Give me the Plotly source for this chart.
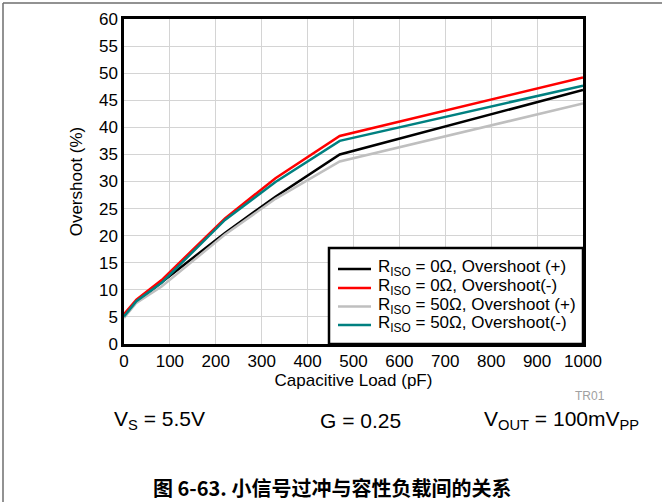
import plotly.graph_objects as go

# Capacitive load (pF)
carga_pf = [0, 27, 82, 220, 330, 470, 1000]

# Overshoot (%) por serie
riso0_pos = [5.0, 7.8, 11.4, 20.5, 27.2, 35.0, 46.9]
riso0_neg = [5.5, 8.2, 11.8, 23.2, 30.6, 38.4, 49.2]
riso50_pos = [4.8, 7.6, 10.6, 20.2, 26.8, 33.7, 44.4]
riso50_neg = [5.1, 7.9, 11.3, 22.9, 29.9, 37.5, 47.7]

series = [
    ("R<sub>ISO</sub> = 0Ω, Overshoot (+)", riso0_pos, "#000000"),
    ("R<sub>ISO</sub> = 0Ω, Overshoot(-)", riso0_neg, "#ff0000"),
    ("R<sub>ISO</sub> = 50Ω, Overshoot (+)", riso50_pos, "#bfbfbf"),
    ("R<sub>ISO</sub> = 50Ω, Overshoot(-)", riso50_neg, "#008080"),
]

FUENTE = "Liberation Sans, Arial, sans-serif"

fig = go.Figure()
for nombre, valores, color in series:
    fig.add_trace(go.Scatter(
        x=carga_pf, y=valores, name=nombre, mode="lines",
        line=dict(color=color, width=2.5), showlegend=False,
    ))

# area del grafico en pixeles: x 124..583, y 19..344
L, R, T, B = 124, 583, 19, 344
W, H = R - L, B - T


def px(x):
    return (x - L) / W


def py(y):
    return (B - y) / H


fig.update_layout(
    width=662, height=502,
    margin=dict(l=L, r=662 - R, t=T, b=502 - B, autoexpand=False),
    paper_bgcolor="white", plot_bgcolor="white",
    font=dict(family=FUENTE, size=17, color="black"),
    xaxis=dict(
        range=[0, 1000], dtick=100, showgrid=True, gridcolor="#d4d4d4", gridwidth=1,
        showline=True, mirror=True, linecolor="black", linewidth=2.5,
        ticks="", zeroline=False,
        title=dict(text="Capacitive Load (pF)", standoff=4, font=dict(size=17)),
    ),
    yaxis=dict(
        range=[0, 60], dtick=5, showgrid=True, gridcolor="#d4d4d4", gridwidth=1,
        showline=True, mirror=True, linecolor="black", linewidth=2.5,
        ticks="", zeroline=False,
        title=dict(text="Overshoot (%)", standoff=12, font=dict(size=17)),
    ),
)

# leyenda dibujada a mano (la de plotly deja las filas demasiado separadas)
fig.add_shape(type="rect", xref="paper", yref="paper",
              x0=px(329), x1=px(583), y0=py(344), y1=py(248),
              fillcolor="white", line=dict(color="black", width=2.5), layer="above")
filas_y = [269, 288, 306.5, 325]
for (nombre, _, color), fy in zip(series, filas_y):
    fig.add_shape(type="line", xref="paper", yref="paper",
                  x0=px(338), x1=px(371), y0=py(fy), y1=py(fy),
                  line=dict(color=color, width=2.5), layer="above")
    fig.add_annotation(
        text=nombre, xref="paper", yref="paper", x=px(376), y=py(fy - 1),
        xanchor="left", yanchor="middle", showarrow=False,
        font=dict(size=17, color="black", family=FUENTE),
    )

# marco gris de la pagina
fig.add_shape(type="line", xref="paper", yref="paper",
              x0=px(3), x1=px(662), y0=py(3), y1=py(3),
              line=dict(color="#6e6e6e", width=1.5))
fig.add_shape(type="line", xref="paper", yref="paper",
              x0=px(3), x1=px(3), y0=py(3), y1=py(502),
              line=dict(color="#6e6e6e", width=1.5))

anotaciones = [
    ("TR01", 590, 396, 12, "#a0a0a0", "center"),
    ("V<sub>S</sub> = 5.5V", 112, 420, 21, "black", "left"),
    ("G = 0.25", 360, 420, 21, "black", "center"),
    ("V<sub>OUT</sub> = 100mV<sub>PP</sub>", 641, 420, 21, "black", "right"),
]
for texto, x, y, tam, color, anc in anotaciones:
    fig.add_annotation(
        text=texto, xref="paper", yref="paper", x=px(x), y=py(y),
        xanchor=anc, yanchor="middle", showarrow=False,
        font=dict(size=tam, color=color, family=FUENTE),
    )

fig.add_annotation(
    text="<b>图 6-63. 小信号过冲与容性负载间的关系</b>",
    xref="paper", yref="paper", x=px(332), y=py(487),
    xanchor="center", yanchor="middle", showarrow=False, borderpad=0,
    font=dict(size=20, color="black", family="Noto Sans CJK SC, Liberation Sans"),
)

# el body trae 8px de margen por defecto; se quita para que el grafico quede en 0,0
fig.write_html("out.html", config={"displayModeBar": False},
               post_script="document.body.style.margin='0';")
